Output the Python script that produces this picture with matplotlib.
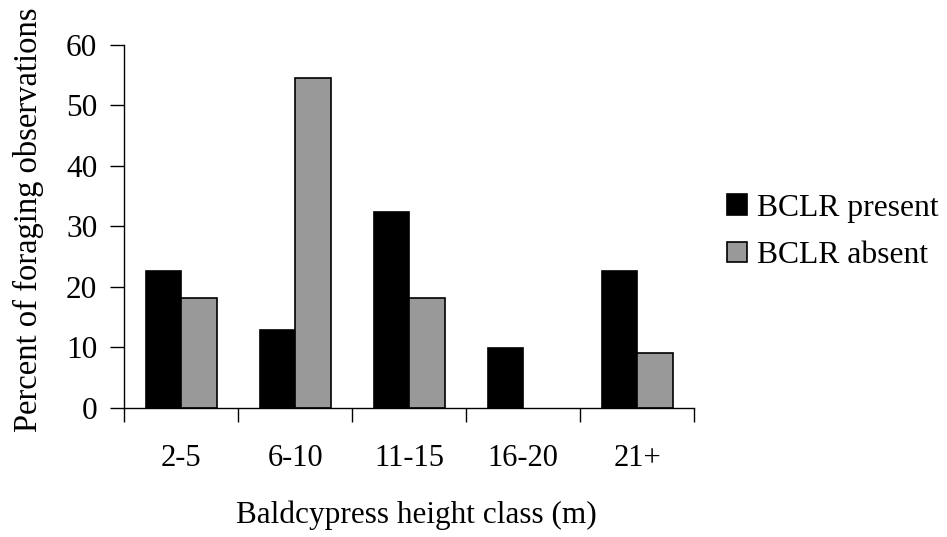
import matplotlib
matplotlib.use("Agg")
import matplotlib.pyplot as plt
from matplotlib.patches import Patch
import numpy as np

categories = ["2-5", "6-10", "11-15", "16-20", "21+"]
present = [22.6, 12.8, 32.4, 9.9, 22.6]
absent = [18.2, 54.6, 18.2, 0.0, 9.1]
series_labels = ["BCLR present", "BCLR absent"]
yticks = [0, 10, 20, 30, 40, 50, 60]

plt.rcParams["font.family"] = ["Liberation Serif", "DejaVu Serif"]

fig = plt.figure(figsize=(9.47, 5.37), dpi=100)
ax = fig.add_axes([124.3 / 947, 1 - 407.7 / 537, 570 / 947, 362.7 / 537])

x = np.arange(len(categories))
w = 0.31
lw_p = [1.2 if v > 0 else 0 for v in present]
lw_a = [1.2 if v > 0 else 0 for v in absent]
ax.bar(x - w / 2, present, width=w, color="black", edgecolor="black", linewidth=lw_p)
ax.bar(x + w / 2, absent, width=w, color="#999999", edgecolor="black", linewidth=lw_a)

ax.set_xlim(-0.5, len(categories) - 0.5)
ax.set_ylim(0, 60)
ax.set_yticks(yticks)
ax.set_yticklabels([str(t) for t in yticks])
ax.set_xticks(np.arange(len(categories) + 1) - 0.5, minor=False)
ax.set_xticklabels([""] * (len(categories) + 1))
ax.set_xticks(x, minor=True)
ax.set_xticklabels(categories, minor=True)
ax.tick_params(axis="x", which="minor", length=0, pad=26, labelsize=22)
ax.tick_params(axis="x", which="major", length=10, width=1, direction="out")
ax.tick_params(axis="y", length=10, width=1, direction="out", labelsize=22.5, pad=9.5)

for s in ["top", "right"]:
    ax.spines[s].set_visible(False)
for s in ["left", "bottom"]:
    ax.spines[s].set_linewidth(1)

ax.set_xlabel("Baldcypress height class (m)", fontsize=22.5)
ax.xaxis.set_label_coords(0.512, -0.257)
ax.set_ylabel("Percent of foraging observations", fontsize=23.5)
ax.yaxis.set_label_coords(-0.141, 0.5175)

handles = [Patch(facecolor="black", edgecolor="black", linewidth=1.2),
           Patch(facecolor="#999999", edgecolor="black", linewidth=1.2)]
fig.legend(handles, series_labels, loc="center left", bbox_to_anchor=(727 / 947, 1 - 232 / 537),
           frameon=False, fontsize=22.8, handlelength=0.63, handleheight=0.63,
           handletextpad=0.32, labelspacing=0.58, borderaxespad=0, borderpad=0)

fig.savefig("out.png", dpi=100)
